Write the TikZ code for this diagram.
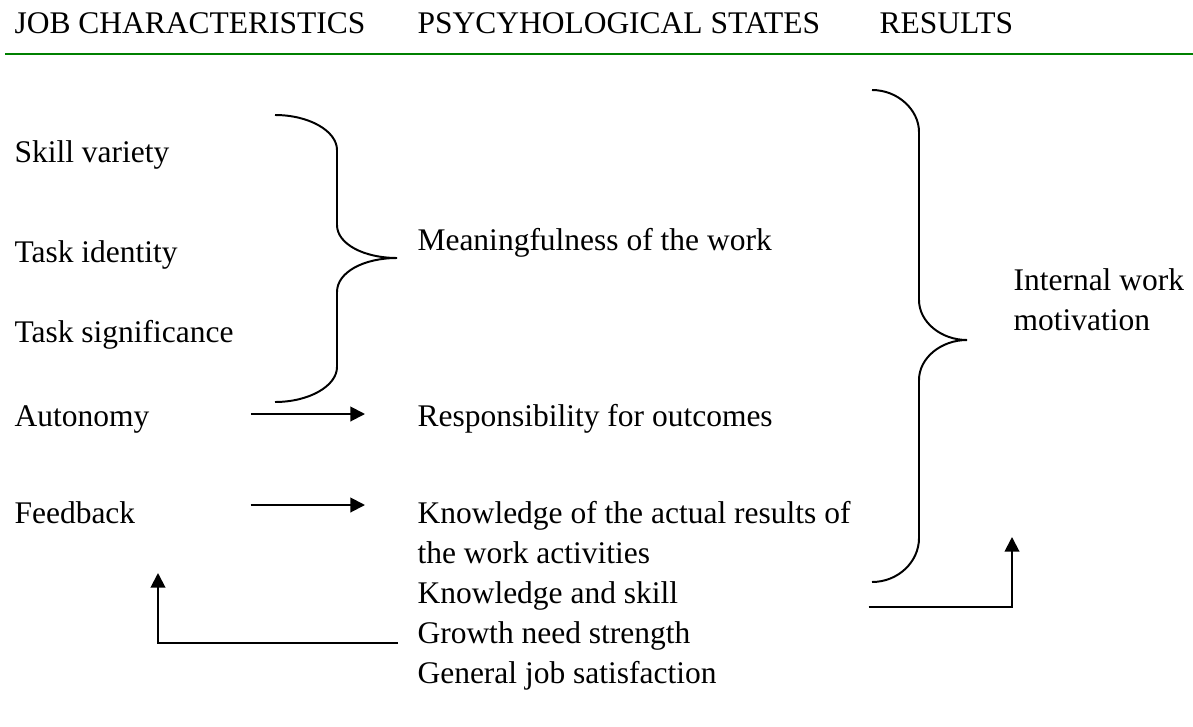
\documentclass[tikz,border=0pt]{standalone}
\usepackage{fontspec}
\setmainfont{Liberation Serif}
\usetikzlibrary{arrows.meta,calc}
\definecolor{rulegreen}{RGB}{0,128,0}

\begin{document}
\begin{tikzpicture}[x=0.381pt,y=-0.381pt,
  lbl/.style={anchor=base west,inner sep=0pt,font=\fontsize{12}{15}\selectfont},
  flow/.style={-{Triangle[length=5.6pt,width=5.6pt]},line width=0.75pt},
  brc/.style={line width=0.75pt}]
\useasboundingbox (0,0) rectangle (1193,726);

% header
\node[lbl] (hdjob) at (14,33) {JOB CHARACTERISTICS};
\node[lbl] (hdpsy) at (417,33) {PSYCYHOLOGICAL STATES};
\node[lbl] (hdres) at (879,33) {RESULTS};
\draw[rulegreen,line width=1pt] (5,54) -- (1193,54);

% job characteristics
\node[lbl] (skill) at (14,162) {Skill variety};
\node[lbl] (ident) at (14,262) {Task identity};
\node[lbl] (signif) at (14,342) {Task significance};
\node[lbl] (auton) at (14,426) {Autonomy};
\node[lbl] (feedb) at (14,523) {Feedback};

% psychological states
\node[lbl] (meaning) at (417,250) {Meaningfulness of the work};
\node[lbl] (respons) at (417,426) {Responsibility for outcomes};
\node[lbl] (knowres) at (417,523) {Knowledge of the actual results of};
\node[lbl] (knowres2) at (417,563) {the work activities};
\node[lbl] (skillmod) at (417,603) {Knowledge and skill};
\node[lbl] (growth) at (417,643) {Growth need strength};
\node[lbl] (satisf) at (417,683) {General job satisfaction};

% results
\node[lbl] (intern) at (1013,290) {Internal work};
\node[lbl] (motiv) at (1013,330) {motivation};

% braces
\draw[brc] (275,115) .. controls (309,115) and (337,131) .. (337,150)
  -- (337,225) .. controls (337,244) and (364,258) .. (397,258)
  .. controls (364,258) and (337,272) .. (337,292)
  -- (337,367) .. controls (337,386) and (309,402) .. (275,402);
\draw[brc] (872,90) .. controls (898,90) and (919,110) .. (919,132)
  -- (919,300) .. controls (919,322) and (941,340) .. (967,340)
  .. controls (941,340) and (919,358) .. (919,380)
  -- (919,538) .. controls (919,562) and (898,582) .. (872,582);

% arrows
\draw[flow] ([shift={(101,-12)}]auton.base east) -- ([shift={(-52,-12)}]respons.base west);
\draw[flow] ([shift={(115,-18)}]feedb.base east) -- ([shift={(-52,-18)}]knowres.base west);
\draw[flow] ([shift={(-19,0)}]growth.base west) -| ([shift={(144,50)}]feedb.base west);
\draw[flow] ([shift={(190,4)}]skillmod.base east) -| ([shift={(-1,207)}]motiv.base west);
\end{tikzpicture}
\end{document}
